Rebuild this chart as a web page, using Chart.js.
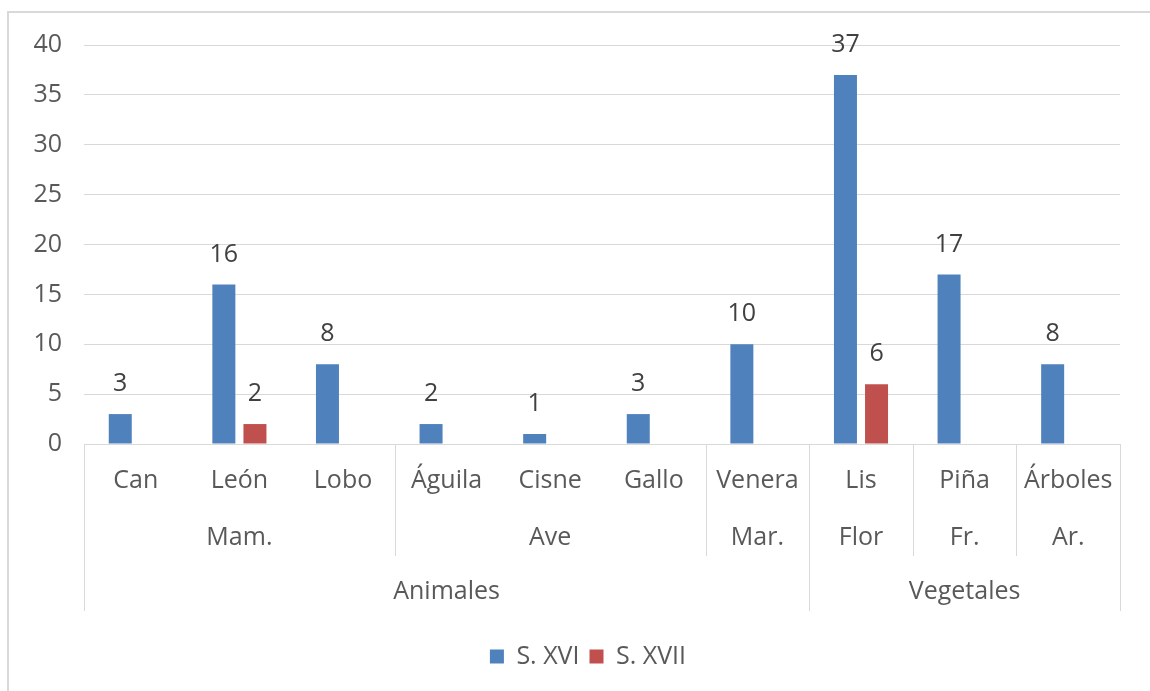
<!DOCTYPE html>
<html>
<head>
<meta charset="utf-8">
<script src="https://cdn.jsdelivr.net/npm/chart.js@4/dist/chart.umd.min.js"></script>
<style>
  html, body { margin: 0; padding: 0; background: #fff; }
  #wrap { width: 1150px; height: 691px; }
</style>
</head>
<body>
<div id="wrap"><canvas id="chart"></canvas></div>
<script>
// Datos del gráfico
const categories = ['Can', 'León', 'Lobo', 'Águila', 'Cisne', 'Gallo', 'Venera', 'Lis', 'Piña', 'Árboles'];
const siglo16 = [3, 16, 8, 2, 1, 3, 10, 37, 17, 8];
const siglo17 = [0, 2, 0, 0, 0, 0, 0, 6, 0, 0];
const seriesNames = ['S. XVI', 'S. XVII'];

// Niveles del eje de categorías
const subgroupLabels = ['Mam.', 'Ave', 'Mar.', 'Flor', 'Fr.', 'Ar.'];
const subgroupSizes = [3, 3, 1, 1, 1, 1];
const groupLabels = ['Animales', 'Vegetales'];
const groupSizes = [7, 3];

const yTicks = [0, 5, 10, 15, 20, 25, 30, 35, 40];

const FONT = "'Open Sans', sans-serif";
const TEXT = '#595959';
const LINE = '#D9D9D9';

// Marco exterior del gráfico
const framePlugin = {
    id: 'frame',
    beforeDraw(chart) {
        const ctx = chart.ctx;
        ctx.save();
        ctx.strokeStyle = LINE;
        ctx.lineWidth = 2;
        ctx.beginPath();
        ctx.moveTo(8, chart.height);
        ctx.lineTo(8, 12);
        ctx.lineTo(chart.width, 12);
        ctx.stroke();
        ctx.restore();
    }
};

// La leyenda del original está algo desplazada a la derecha
const legendShift = {
    id: 'legendShift',
    afterLayout(chart) {
        chart.legend.left += 28;
        chart.legend.right += 28;
    }
};

// Etiquetas de valor encima de las barras
const valueLabels = {
    id: 'valueLabels',
    afterDatasetsDraw(chart) {
        const ctx = chart.ctx;
        ctx.save();
        ctx.font = '25px ' + FONT;
        ctx.fillStyle = '#404040';
        ctx.textAlign = 'center';
        ctx.textBaseline = 'middle';
        chart.data.datasets.forEach((ds, i) => {
            chart.getDatasetMeta(i).data.forEach((bar, j) => {
                if (!ds.data[j]) return;
                ctx.fillText(ds.data[j], bar.x, bar.y - 30);
            });
        });
        ctx.restore();
    }
};

// Eje de categorías en varios niveles (subgrupo y grupo)
const multiLevelAxis = {
    id: 'multiLevelAxis',
    afterDraw(chart) {
        const x = chart.scales.x;
        const ctx = chart.ctx;
        const bottom = chart.chartArea.bottom;
        const step = x.width / categories.length;
        const edge = i => x.getPixelForValue(i) - step / 2;

        const row2Y = bottom + 94, row2End = bottom + 112;
        const row3Y = bottom + 148, row3End = bottom + 167;

        ctx.save();
        ctx.strokeStyle = LINE;
        ctx.lineWidth = 1;

        // líneas de separación de los grupos principales
        let pos = 0;
        const groupEdges = [0];
        groupSizes.forEach(n => { pos += n; groupEdges.push(pos); });
        groupEdges.forEach(i => {
            const px = Math.round(edge(i)) + 0.5;
            ctx.beginPath();
            ctx.moveTo(px, bottom);
            ctx.lineTo(px, row3End);
            ctx.stroke();
        });

        // líneas de separación de los subgrupos
        pos = 0;
        subgroupSizes.forEach(n => {
            pos += n;
            if (groupEdges.includes(pos)) return;
            const px = Math.round(edge(pos)) + 0.5;
            ctx.beginPath();
            ctx.moveTo(px, bottom);
            ctx.lineTo(px, row2End);
            ctx.stroke();
        });

        ctx.font = '25px ' + FONT;
        ctx.fillStyle = TEXT;
        ctx.textAlign = 'center';
        ctx.textBaseline = 'middle';

        pos = 0;
        subgroupLabels.forEach((label, i) => {
            const start = pos;
            pos += subgroupSizes[i];
            ctx.fillText(label, (edge(start) + edge(pos)) / 2, row2Y);
        });

        pos = 0;
        groupLabels.forEach((label, i) => {
            const start = pos;
            pos += groupSizes[i];
            ctx.fillText(label, (edge(start) + edge(pos)) / 2, row3Y);
        });
        ctx.restore();
    }
};

const ctx = document.getElementById('chart').getContext('2d');
const chart = new Chart(ctx, {
    type: 'bar',
    data: {
        labels: categories,
        datasets: [{
            label: seriesNames[0],
            data: siglo16,
            backgroundColor: '#4F81BD',
            categoryPercentage: 0.6,
            barPercentage: 0.74
        }, {
            label: seriesNames[1],
            data: siglo17,
            backgroundColor: '#C0504D',
            categoryPercentage: 0.6,
            barPercentage: 0.74
        }]
    },
    options: {
        responsive: true,
        maintainAspectRatio: false,
        animation: false,
        layout: { padding: { top: 45, right: 30, bottom: 12, left: 0 } },
        scales: {
            x: {
                grid: { display: false },
                border: { display: false },
                ticks: {
                    color: TEXT,
                    font: { family: FONT, size: 25 },
                    padding: 14,
                    maxRotation: 0,
                    autoSkip: false
                },
                afterFit(scale) { scale.height = 190; }
            },
            y: {
                min: 0,
                max: 40,
                afterBuildTicks(scale) { scale.ticks = yTicks.map(v => ({ value: v })); },
                grid: { color: LINE, lineWidth: 1, drawTicks: false },
                border: { display: false },
                ticks: {
                    color: TEXT,
                    font: { family: FONT, size: 25 },
                    padding: 22
                },
                afterFit(scale) { scale.width = 84; }
            }
        },
        plugins: {
            legend: {
                position: 'bottom',
                labels: {
                    color: TEXT,
                    font: { family: FONT, size: 25 },
                    boxWidth: 14,
                    boxHeight: 14,
                    padding: 10
                }
            },
            tooltip: { enabled: false }
        }
    },
    plugins: [framePlugin, legendShift, valueLabels, multiLevelAxis]
});
</script>
</body>
</html>
